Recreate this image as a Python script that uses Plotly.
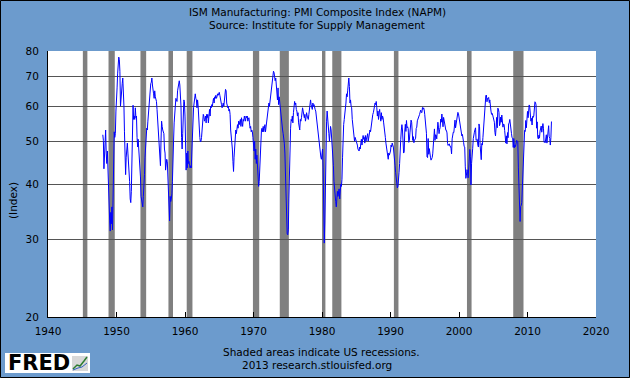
import pandas as pd
import plotly.graph_objects as go

# ISM Manufacturing PMI (NAPM), monthly, starting January 1948
START = "1948-01-01"
PMI_1948_1959 = [
    51.7, 50.2, 43.3, 48.5, 51.0, 53.0, 47.0, 44.5, 47.5, 42.5, 41.5, 34.0,
    33.0, 31.3, 34.5, 32.5, 35.5, 31.5, 38.0, 44.0, 52.5, 51.0, 52.0, 58.5,
    61.0, 66.0, 71.0, 74.5, 77.5, 76.5, 72.0, 60.0, 63.5, 66.0, 67.5, 69.5,
    66.0, 60.0, 52.5, 43.5, 42.0, 46.0, 48.5, 49.5, 47.0, 45.0, 43.0, 40.5,
    37.0, 36.3, 38.5, 46.0, 50.0, 60.3, 56.0, 57.0, 56.0, 59.5, 56.5, 57.0,
    51.0, 48.5, 50.5, 48.5, 46.5, 43.0, 41.5, 37.5, 36.5, 36.0, 35.5, 37.5,
    39.0, 42.0, 46.0, 48.5, 51.0, 53.5, 53.0, 55.5, 58.0, 61.5, 64.0, 65.5,
    67.5, 68.0, 69.5, 67.0, 66.0, 64.0, 62.5, 65.0, 63.0, 62.5, 61.5, 59.0,
    56.0, 55.0, 53.5, 50.0, 48.5, 44.0, 50.0, 55.5, 54.0, 53.0, 52.5, 52.0,
    48.0, 47.0, 43.0, 45.5, 45.5, 45.0, 42.0, 38.5, 36.5, 33.0, 37.5, 36.5,
    37.0, 38.0, 40.5, 43.5, 50.0, 55.0, 58.5, 59.0, 62.5, 62.0, 61.5, 65.0,
    67.0, 67.5, 68.5, 67.0, 63.0, 60.0, 51.0, 48.0, 52.0, 56.0, 62.0, 61.5,
]
PMI_1960S = [
    57.0, 52.0, 43.0, 47.0, 43.5, 47.5, 44.5, 45.0, 44.0, 43.5, 44.0, 43.5,
    47.5, 53.0, 58.5, 59.5, 61.0, 62.5, 64.0, 62.5, 62.0, 59.5, 62.0, 60.0,
    55.0, 52.0, 51.0, 49.8, 50.0, 51.0, 53.5, 55.5, 57.5, 57.0, 55.5, 56.0,
    57.0, 55.0, 57.5, 56.5, 57.5, 55.0, 58.0, 59.0, 57.0, 60.0, 59.5, 60.5,
    60.0, 61.5, 62.5, 61.0, 63.0, 62.5, 63.5, 62.5, 63.0, 64.0, 63.5, 64.5,
    64.5, 63.5, 62.0, 61.0, 60.5, 59.5, 60.5, 61.0, 60.0, 61.5, 63.5, 65.5,
    65.0, 61.0, 60.0, 59.5, 60.0, 58.5, 59.0, 57.5, 53.0, 51.5, 49.5, 48.0,
    45.0, 42.7, 46.0, 48.5, 51.0, 53.0, 52.0, 54.0, 54.5, 53.5, 55.5, 54.5,
    55.0, 56.0, 54.0, 56.5, 55.0, 54.0, 56.0, 55.5, 57.0, 56.0, 55.5, 57.0,
    56.5, 57.0, 55.5, 56.0, 56.5, 55.0, 53.5, 54.0, 52.5, 53.0, 52.5, 51.0,
]
PMI_1970S = [
    49.0, 47.5, 50.0, 45.5, 48.0, 44.5, 46.5, 43.0, 41.0, 39.5, 40.5, 44.0,
    44.5, 51.0, 53.0, 53.5, 52.5, 54.0, 52.5, 53.5, 54.5, 52.5, 54.0, 55.0,
    58.0, 59.5, 60.0, 61.0, 60.0, 61.5, 62.0, 64.0, 66.5, 68.5, 70.5, 72.0,
    71.5, 70.0, 68.5, 69.5, 67.0, 65.0, 62.0, 66.0, 60.5, 63.0, 61.0, 58.0,
    57.5, 56.0, 55.0, 53.0, 52.0, 51.0, 49.5, 47.0, 42.0, 40.0, 32.5, 30.9,
    30.7, 31.5, 37.0, 45.0, 51.5, 53.5, 56.0, 55.5, 57.0, 55.0, 58.0, 61.0,
    61.5, 60.5, 61.0, 59.0, 58.5, 57.0, 58.0, 55.0, 54.0, 53.0, 56.0, 55.5,
    56.5, 58.0, 59.5, 58.5, 57.0, 56.5, 57.5, 55.5, 56.5, 58.0, 57.0, 56.5,
    56.0, 57.5, 59.0, 61.5, 62.0, 60.5, 60.0, 59.0, 61.0, 60.0, 60.5, 59.0,
    59.0, 58.5, 57.0, 55.5, 53.0, 51.5, 50.0, 49.5, 48.5, 47.0, 46.0, 45.5,
]
PMI_1980S = [
    46.5, 48.0, 43.5, 37.0, 29.4, 33.0, 41.0, 49.5, 55.5, 58.5, 55.0, 52.5,
    52.0, 50.0, 51.5, 54.0, 53.0, 51.0, 48.5, 47.5, 44.0, 40.5, 38.5, 38.0,
    36.5, 35.5, 37.0, 38.5, 37.5, 38.0, 39.0, 37.0, 38.5, 40.0, 39.5, 41.0,
    46.0, 53.0, 54.5, 56.0, 57.5, 58.5, 61.0, 64.0, 63.0, 65.0, 66.5, 69.5,
    66.5, 61.0, 62.0, 60.0, 59.5, 56.0, 54.5, 53.0, 51.5, 50.0, 51.0, 50.5,
    50.5, 49.5, 49.0, 48.0, 47.5, 47.5, 48.5, 48.0, 49.5, 50.5, 49.0, 51.0,
    51.5, 50.5, 51.0, 49.5, 51.5, 50.0, 50.5, 51.0, 52.0, 50.0, 51.0, 52.0,
    53.0, 52.5, 54.0, 56.0, 55.5, 57.5, 58.0, 59.5, 60.0, 61.0, 60.5, 61.5,
    59.5, 57.0, 58.5, 56.0, 58.0, 59.0, 57.0, 55.5, 58.0, 56.0, 57.0, 56.5,
    55.0, 54.0, 53.0, 51.0, 49.5, 48.5, 46.5, 46.0, 45.5, 47.0, 46.5, 47.0,
]
PMI_1990S = [
    47.5, 49.0, 48.5, 49.5, 49.0, 48.5, 47.0, 46.0, 44.0, 42.5, 41.0, 40.5,
    39.2, 39.5, 40.5, 42.5, 44.5, 50.0, 50.5, 53.0, 54.5, 53.0, 49.5, 47.0,
    47.3, 52.7, 54.6, 52.6, 55.7, 53.6, 53.9, 53.4, 49.7, 50.2, 52.2, 54.2,
    55.8, 55.2, 53.4, 50.2, 51.2, 49.6, 50.2, 50.7, 50.8, 53.4, 53.8, 55.6,
    56.0, 56.5, 56.9, 57.5, 58.2, 58.8, 58.1, 58.0, 59.6, 59.0, 59.5, 59.0,
    57.4, 55.1, 52.1, 52.1, 46.1, 45.9, 50.7, 46.7, 48.1, 46.1, 46.0, 45.3,
    45.5, 45.9, 46.8, 49.0, 49.6, 53.3, 50.2, 51.7, 51.6, 50.6, 52.1, 55.2,
    53.8, 52.0, 53.1, 53.7, 56.1, 55.2, 57.6, 56.3, 53.9, 56.6, 55.4, 54.5,
    53.8, 52.9, 52.9, 52.2, 49.4, 48.9, 49.2, 49.3, 48.7, 48.7, 48.2, 46.8,
    50.6, 51.7, 52.4, 52.3, 54.3, 55.8, 53.6, 54.8, 57.0, 57.2, 58.1, 57.8,
]
PMI_2000_2013 = [
    56.7, 55.8, 54.9, 54.7, 53.2, 51.4, 51.8, 49.9, 49.7, 48.7, 48.5, 43.9,
    41.2, 41.9, 43.1, 42.7, 41.3, 43.2, 43.5, 47.9, 46.2, 39.8, 44.5, 48.1,
    48.2, 50.7, 52.4, 52.4, 53.1, 53.6, 50.2, 50.3, 50.5, 49.0, 48.5, 54.7,
    53.9, 48.9, 46.2, 45.4, 49.4, 49.0, 51.0, 53.7, 53.7, 57.0, 61.4, 63.4,
    63.6, 61.4, 62.5, 62.4, 62.8, 61.1, 62.0, 59.0, 58.5, 57.5, 57.8, 57.3,
    56.4, 55.3, 55.2, 52.3, 51.4, 53.8, 56.6, 53.6, 59.4, 59.1, 58.1, 54.2,
    54.8, 56.7, 55.2, 57.3, 54.4, 53.8, 54.7, 54.5, 52.9, 51.2, 49.5, 51.4,
    49.3, 52.3, 50.9, 54.7, 55.0, 56.0, 53.8, 52.9, 52.0, 50.9, 50.8, 48.4,
    50.7, 48.3, 49.0, 48.6, 49.6, 50.2, 50.0, 49.9, 43.5, 38.9, 36.2, 32.9,
    35.6, 35.8, 36.3, 40.1, 42.8, 44.8, 48.9, 52.9, 52.6, 55.7, 53.6, 55.9,
    58.4, 56.5, 59.6, 60.4, 59.7, 56.2, 55.5, 56.3, 54.4, 56.9, 56.6, 57.0,
    60.8, 61.4, 61.2, 60.4, 53.5, 55.3, 50.9, 50.6, 51.6, 50.8, 52.7, 53.9,
    54.1, 52.4, 53.4, 54.8, 53.5, 49.7, 49.8, 49.6, 51.5, 51.7, 49.5, 50.7,
    53.1, 54.2, 51.3, 50.7, 49.0, 50.9, 55.4,
]

# US recessions (NBER peak / trough months)
REC_START = ["1945-02-01", "1948-11-01", "1953-07-01", "1957-08-01", "1960-04-01",
             "1969-12-01", "1973-11-01", "1980-01-01", "1981-07-01", "1990-07-01",
             "2001-03-01", "2007-12-01"]
REC_END = ["1945-10-01", "1949-10-01", "1954-05-01", "1958-04-01", "1961-02-01",
           "1970-11-01", "1975-03-01", "1980-07-01", "1982-11-01", "1991-03-01",
           "2001-11-01", "2009-06-01"]

Y_TICKS = [20, 30, 40, 50, 60, 70, 80]
X_TICKS = [1940, 1950, 1960, 1970, 1980, 1990, 2000, 2010, 2020]

TITLE1 = "ISM Manufacturing: PMI Composite Index (NAPM)"
TITLE2 = "Source: Institute for Supply Management"
NOTE1 = "Shaded areas indicate US recessions."
NOTE2 = "2013 research.stlouisfed.org"

values = PMI_1948_1959 + PMI_1960S + PMI_1970S + PMI_1980S + PMI_1990S + PMI_2000_2013
dates = pd.date_range(START, periods=len(values), freq="MS")

BG = "#6C9BCD"
FONT = "DejaVu Sans"
W, H = 630, 378
L, R, T, B = 48, 34, 51, 61
PW, PH = W - L - R, H - T - B


def px(xp):
    return (xp - L) / PW


def py(yp):
    return (H - B - yp) / PH


fig = go.Figure()
fig.add_trace(go.Scatter(x=dates, y=values, mode="lines",
                         line=dict(color="#0000FF", width=1), hoverinfo="x+y",
                         showlegend=False))

shapes = []
for s, e in zip(REC_START, REC_END):
    shapes.append(dict(type="rect", xref="x", yref="paper", x0=s, x1=e, y0=0, y1=1,
                       fillcolor="#808080", line=dict(width=0), layer="below"))

# FRED logo box
shapes.append(dict(type="rect", xref="paper", yref="paper",
                   x0=px(5), x1=px(90), y0=py(373), y1=py(353),
                   fillcolor="white", line=dict(width=0)))
shapes.append(dict(type="rect", xref="paper", yref="paper",
                   x0=px(72), x1=px(88), y0=py(371), y1=py(356),
                   fillcolor="#D8D8D8", line=dict(width=0)))
shapes.append(dict(type="path", xref="paper", yref="paper",
                   path="M {} {} L {} {} L {} {} L {} {} L {} {}".format(
                       px(73), py(369), px(77), py(365), px(80), py(366), px(84), py(361), px(87), py(357)),
                   line=dict(color="#2E7D32", width=1.5)))
shapes.append(dict(type="path", xref="paper", yref="paper",
                   path="M {} {} L {} {} L {} {} L {} {}".format(
                       px(73), py(370), px(78), py(368), px(82), py(367), px(87), py(363)),
                   line=dict(color="#3060C0", width=1)))
# outer border
shapes.append(dict(type="rect", xref="paper", yref="paper",
                   x0=px(0.5), x1=px(W - 0.5), y0=py(H - 0.5), y1=py(0.5),
                   line=dict(color="black", width=1), fillcolor="rgba(0,0,0,0)"))

annotations = [
    dict(text=TITLE1, x=px(317), y=py(12), xref="paper", yref="paper", showarrow=False,
         font=dict(size=10.5, color="black", family=FONT), xanchor="center", yanchor="middle"),
    dict(text=TITLE2, x=px(317), y=py(25), xref="paper", yref="paper", showarrow=False,
         font=dict(size=10.5, color="black", family=FONT), xanchor="center", yanchor="middle"),
    dict(text=NOTE1, x=px(321), y=py(352), xref="paper", yref="paper", showarrow=False,
         font=dict(size=10.5, color="black", family=FONT), xanchor="center", yanchor="middle"),
    dict(text=NOTE2, x=px(317), y=py(365), xref="paper", yref="paper", showarrow=False,
         font=dict(size=10.5, color="black", family=FONT), xanchor="center", yanchor="middle"),
    dict(text="(Index)", x=px(13), y=py(201), xref="paper", yref="paper", showarrow=False,
         textangle=-90, font=dict(size=10.5, color="black", family=FONT),
         xanchor="center", yanchor="middle"),
    dict(text="<b>FRED</b>", x=px(6), y=py(363), xref="paper", yref="paper", showarrow=False,
         font=dict(size=21, color="black", family=FONT), xanchor="left", yanchor="middle"),
]

fig.update_layout(
    width=W, height=H,
    margin=dict(l=L, r=R, t=T, b=B, pad=0),
    paper_bgcolor=BG, plot_bgcolor="white",
    font=dict(family=FONT, size=10.5, color="black"),
    shapes=shapes, annotations=annotations,
    showlegend=False,
)
fig.update_xaxes(
    type="date", range=["1940-01-01", "2020-01-01"],
    tickvals=[f"{y}-01-01" for y in X_TICKS], ticktext=[str(y) for y in X_TICKS],
    showgrid=False, showline=True, linecolor="black", linewidth=1,
    ticks="inside", ticklen=5, tickcolor="black", ticklabelstandoff=4,
    zeroline=False,
)
fig.update_yaxes(
    type="log", range=[1.30103, 1.90309],
    tickvals=Y_TICKS, ticktext=[str(v) for v in Y_TICKS],
    showgrid=True, gridcolor="#555555", gridwidth=1,
    showline=True, linecolor="black", linewidth=1,
    ticks="", ticklabelstandoff=6, zeroline=False,
)

fig.write_html(
    "out.html",
    config={"displayModeBar": False},
    post_script="document.body.style.margin='0';document.body.style.padding='0';",
)
